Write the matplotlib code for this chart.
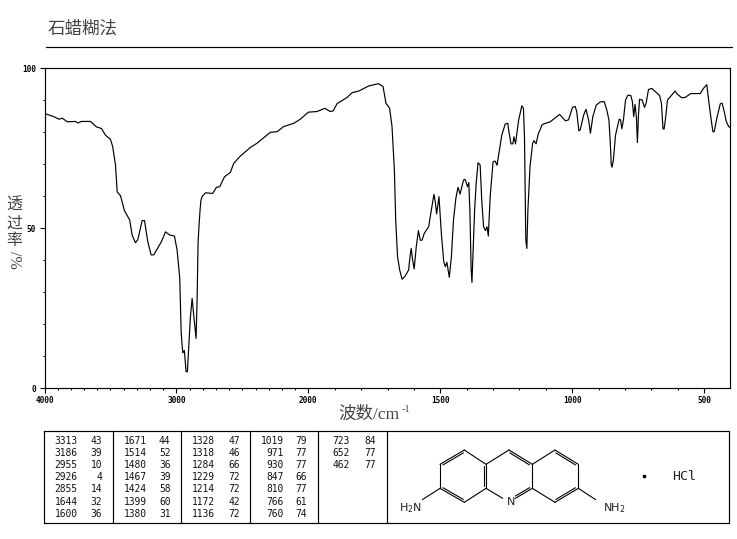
import numpy as np
import matplotlib
matplotlib.use('Agg')
import matplotlib.pyplot as plt
from matplotlib.ticker import FixedLocator, FixedFormatter

# ---- spectrum ----
wavenumber = [
    4000, 3930, 3890, 3865, 3828, 3765, 3745, 3722, 3652, 3606, 3568, 3538, 3500, 3483, 3462,
    3449, 3424, 3394, 3354, 3336, 3311, 3293, 3260, 3242, 3217, 3192, 3172, 3114, 3083, 3051,
    3015, 2995, 2975, 2964, 2952, 2940, 2927, 2917, 2904, 2894, 2881, 2869, 2851, 2843, 2836,
    2830, 2822, 2815, 2806, 2780, 2725, 2697, 2672, 2636, 2591, 2566, 2515, 2439, 2389, 2288,
    2237, 2187, 2111, 2061, 2000, 1967, 1938, 1917, 1906, 1891, 1853, 1834, 1809, 1771, 1734,
    1717, 1706, 1692, 1683, 1674, 1669, 1662, 1654, 1645, 1633, 1620, 1614, 1610, 1606, 1599,
    1591, 1583, 1576, 1569, 1561, 1544, 1534, 1524, 1519, 1514, 1505, 1501, 1496, 1487, 1481,
    1475, 1466, 1458, 1450, 1441, 1433, 1425, 1412, 1406, 1397, 1392, 1388, 1383, 1380, 1376,
    1370, 1364, 1357, 1349, 1343, 1336, 1329, 1323, 1318, 1311, 1300, 1292, 1285, 1276, 1267,
    1254, 1244, 1240, 1232, 1225, 1221, 1215, 1203, 1191, 1185, 1181, 1177, 1176, 1172, 1168,
    1160, 1150, 1145, 1137, 1128, 1121, 1115, 1109, 1090, 1083, 1048, 1026, 1014, 999, 989,
    983, 975, 970, 957, 948, 938, 931, 922, 909, 894, 879, 869, 861, 856, 852,
    849, 844, 836, 822, 817, 812, 806, 798, 789, 778, 772, 767, 762, 757, 753,
    749, 745, 735, 726, 720, 711, 698, 686, 669, 662, 656, 652, 647, 639, 610,
    603, 585, 572, 551, 515, 503, 490, 484, 475, 467, 462, 452, 439, 432, 424,
    416, 407, 404]
transmittance = [
    85.8, 84.8, 84.0, 84.3, 83.2, 83.3, 82.8, 83.3, 83.3, 81.6, 81.1, 79.0, 77.7, 75.4, 69.7,
    61.3, 60.1, 55.4, 52.5, 47.8, 45.4, 46.3, 52.3, 52.3, 45.7, 41.6, 41.6, 45.7, 48.8, 47.8,
    47.5, 43.1, 34.4, 17.2, 11.0, 11.7, 5.1, 5.1, 14.5, 22.3, 28.0, 22.8, 15.5, 28.5, 45.2,
    50.0, 55.0, 58.5, 59.8, 61.0, 60.8, 62.7, 62.9, 66.0, 67.4, 70.2, 72.5, 75.2, 76.5, 79.9,
    80.1, 81.7, 82.7, 84.0, 86.2, 86.4, 87.4, 86.4, 86.6, 88.9, 90.8, 92.3, 92.8, 94.4, 95.1,
    94.2, 89.0, 87.4, 81.7, 68.1, 52.5, 41.0, 36.9, 34.0, 35.0, 36.9, 41.6, 43.6, 40.6, 37.2,
    44.2, 49.2, 46.2, 46.2, 48.3, 50.4, 55.6, 60.5, 58.2, 54.4, 59.8, 54.6, 48.3, 39.5, 37.9,
    39.3, 34.6, 41.0, 52.5, 59.3, 62.7, 60.6, 65.0, 65.2, 62.9, 64.2, 55.6, 36.9, 33.0, 42.2,
    55.6, 64.0, 70.4, 69.7, 58.8, 50.4, 49.2, 50.4, 47.5, 59.8, 70.7, 70.9, 69.6, 74.4, 79.0,
    82.5, 82.7, 80.1, 76.3, 76.3, 78.5, 76.3, 83.8, 88.2, 87.4, 78.5, 52.5, 46.3, 43.6, 55.6,
    69.2, 76.5, 77.3, 76.3, 79.6, 80.8, 82.2, 82.5, 83.0, 83.2, 85.5, 83.5, 83.8, 87.7, 88.0,
    86.4, 80.4, 80.6, 85.2, 87.1, 83.8, 79.6, 84.8, 88.4, 89.4, 89.5, 86.9, 83.8, 77.0, 69.7,
    69.0, 71.3, 79.0, 84.0, 83.8, 81.0, 83.8, 90.0, 91.5, 91.4, 89.5, 84.8, 88.6, 84.8, 76.7,
    85.2, 90.2, 90.0, 87.7, 89.0, 93.3, 93.6, 92.7, 91.4, 89.0, 81.0, 80.9, 83.8, 90.0, 92.8,
    91.9, 90.7, 90.8, 92.0, 92.0, 93.6, 94.8, 90.6, 84.8, 80.1, 80.1, 84.3, 88.8, 89.0, 86.4,
    83.2, 81.7, 81.5]

# ---- peak table ----
peak_wn = [[3313, 3186, 2955, 2926, 2855, 1644, 1600],
           [1671, 1514, 1480, 1467, 1424, 1399, 1380],
           [1328, 1318, 1284, 1229, 1214, 1172, 1136],
           [1019, 971, 930, 847, 810, 766, 760],
           [723, 652, 462]]
peak_t = [[43, 39, 10, 4, 14, 32, 36],
          [44, 52, 36, 39, 58, 60, 31],
          [47, 46, 66, 72, 72, 42, 72],
          [79, 77, 77, 66, 77, 61, 74],
          [84, 77, 77]]

x_major = [4000, 3000, 2000, 1500, 1000, 500]
x_minor = [w for w in range(3900, 2000, -100)] + [w for w in range(1900, 400, -100)]
y_major = [0, 50, 100]
y_minor = list(range(10, 100, 10))

W, H = 737, 539
cjk = ['Liberation Serif', 'Noto Sans CJK SC']
c_txt = '#444444'
mono = 'DejaVu Sans Mono'


# 500 per unit below 2000, 1000 per unit above; has to rise with w or the flipped limits break
def fwd(w):
    w = np.asarray(w, dtype=float)
    return np.where(w >= 2000, (w - 2000) / 1000, (w - 2000) / 500)


def inv(u):
    u = np.asarray(u, dtype=float)
    return np.where(u >= 0, 2000 + u * 1000, 2000 + u * 500)


fig = plt.figure(figsize=(W / 100, H / 100), dpi=100, facecolor='white')

# overlay in pixel coordinates for rules, table and structure
ov = fig.add_axes([0, 0, 1, 1])
ov.set_xlim(0, W)
ov.set_ylim(H, 0)
ov.axis('off')

# ---- spectrum ----
ax = fig.add_axes([44.5 / W, 1 - 388 / H, 685 / W, 320 / H])
ax.plot(wavenumber, transmittance, color='black', lw=0.85)
ax.set_xscale('function', functions=(fwd, inv))
ax.set_xlim(4000, 404)
ax.set_ylim(0, 100)
ax.xaxis.set_major_locator(FixedLocator(x_major))
ax.xaxis.set_major_formatter(FixedFormatter([str(v) for v in x_major]))
ax.xaxis.set_minor_locator(FixedLocator(x_minor))
ax.yaxis.set_major_locator(FixedLocator(y_major))
ax.yaxis.set_major_formatter(FixedFormatter([str(v) for v in y_major]))
ax.yaxis.set_minor_locator(FixedLocator(y_minor))
ax.tick_params(which='major', length=3.6, width=0.8, pad=2.5, labelsize=5.6)
ax.tick_params(which='minor', length=1.5, width=0.8)
for lbl in ax.get_xticklabels() + ax.get_yticklabels():
    lbl.set_family(mono)
    lbl.set_fontweight('bold')
for s in ax.spines.values():
    s.set_linewidth(0.85)

# ---- titles ----
ov.text(48, 29, '石蜡糊法', family=cjk, fontsize=12.6, color=c_txt, ha='left', va='center')
ov.plot([46, 732], [47, 47], color='black', lw=0.85)
for ch, py in zip('透过率', [206, 224, 241]):
    ov.text(14, py, ch, family=cjk, fontsize=11.5, color=c_txt, ha='center', va='center')
ov.text(14, 260, '/%', family=cjk, fontsize=11.5, color=c_txt, rotation=270,
        ha='center', va='center')
ov.text(338, 415, '波数/cm', family=cjk, fontsize=12.6, color=c_txt, ha='left', va='center')
ov.text(402, 410, '-1', family=cjk, fontsize=7.5, color=c_txt, ha='left', va='center')

# ---- table frame ----
ov.plot([44.5, 729.5, 729.5, 44.5, 44.5], [431, 431, 523, 523, 431], color='black', lw=0.85)
for vx in [113.5, 181.5, 250.5, 318.5, 387.5]:
    ov.plot([vx, vx], [431, 523], color='black', lw=0.85)

col_wn = [77.5, 146.5, 215, 283.5, 350]
col_t = [102, 170.5, 240, 307, 376]
row_y = [440.7, 452.7, 465, 477.3, 489.3, 501.7, 514]
for cw, ct, wns, ts in zip(col_wn, col_t, peak_wn, peak_t):
    for py, a, b in zip(row_y, wns, ts):
        ov.text(cw, py, str(a), family=mono, fontsize=6.9, ha='right', va='center', color='#111111')
        ov.text(ct, py, str(b), family=mono, fontsize=6.9, ha='right', va='center', color='#111111')

# ---- structure ----
ox, oy = 385, 425
atoms = dict(a=(238, 75), b=(165, 118), c=(165, 190), d=(238, 232), e=(303, 190), f=(303, 118),
             g=(372, 75), h=(442, 118), i=(442, 190), n=(391, 220),
             j=(510, 75), k=(580, 118), l=(580, 190), m=(510, 232))
atoms = {k: (ox + v[0] / 3, oy + v[1] / 3) for k, v in atoms.items()}
ctr_l = (ox + 234 / 3, oy + 154 / 3)
ctr_m = (ox + 372 / 3, oy + 154 / 3)
ctr_r = (ox + 510 / 3, oy + 154 / 3)


def bond(p, q):
    ov.plot([p[0], q[0]], [p[1], q[1]], color='black', lw=0.8, solid_capstyle='round')


def double_bond(p, q, ctr):
    p, q, ctr = np.array(p), np.array(q), np.array(ctr)
    bond(p, q)
    # inner line, pulled toward the ring centre
    mid = (p + q) / 2
    off = (ctr - mid) / np.hypot(*(ctr - mid)) * 2.0
    bond(p + off + (q - p) * 0.08, q + off - (q - p) * 0.08)


for s in ['bc', 'de', 'af', 'fg', 'hi', 'hj', 'kl', 'im']:
    bond(atoms[s[0]], atoms[s[1]])
for s, ctr in [('ab', ctr_l), ('cd', ctr_l), ('ef', ctr_l), ('gh', ctr_m),
               ('in', ctr_m), ('jk', ctr_r), ('lm', ctr_r)]:
    double_bond(atoms[s[0]], atoms[s[1]], ctr)

# bonds to N and the two amine groups
bond(atoms['e'], (ox + 353 / 3, oy + 220 / 3))
bond(atoms['c'], (ox + 112 / 3, oy + 224 / 3))
bond(atoms['l'], (ox + 632 / 3, oy + 224 / 3))

ov.text(ox + 378 / 3, oy + 232 / 3, 'N', fontsize=8, ha='center', va='center', color='#222222')
ov.text(410, 508, 'H$_2$N', fontsize=8, ha='center', va='center', color='#222222')
ov.text(614, 508, 'NH$_2$', fontsize=8, ha='center', va='center', color='#222222')
ov.text(684, 476, 'HCl', family=mono, fontsize=9.5, ha='center', va='center', color='#222222')
ov.plot([644], [476], 's', color='black', ms=1.5)

fig.savefig('out.png', dpi=100, facecolor='white')
plt.close()
